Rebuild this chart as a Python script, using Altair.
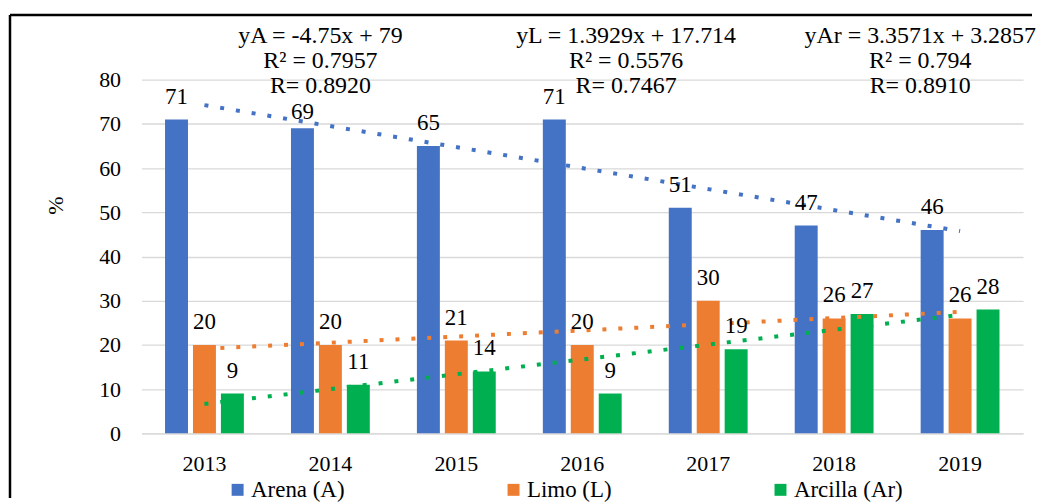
import altair as alt
import pandas as pd

# ---- data ----
years = ["2013", "2014", "2015", "2016", "2017", "2018", "2019"]
year_index = [1, 2, 3, 4, 5, 6, 7]
series_names = ["Arena (A)", "Limo (L)", "Arcilla (Ar)"]
arena = [71, 69, 65, 71, 51, 47, 46]
limo = [20, 20, 21, 20, 30, 26, 26]
arcilla = [9, 11, 14, 9, 19, 27, 28]
series_colors = ["#4472C4", "#ED7D31", "#00B050"]
y_ticks = [0, 10, 20, 30, 40, 50, 60, 70, 80]
eq_arena = ["yA = -4.75x + 79", "R² = 0.7957", "R= 0.8920"]
eq_limo = ["yL = 1.3929x + 17.714", "R² = 0.5576", "R= 0.7467"]
eq_arcilla = ["yAr = 3.3571x + 3.2857", "R² = 0.794", "R= 0.8910"]
eq_anchor_years = ["2014", "2016", "2019"]

rows = []
for name, vals in zip(series_names, [arena, limo, arcilla]):
    for y, i, v in zip(years, year_index, vals):
        rows.append({"year": y, "idx": i, "series": name, "value": v})
df = pd.DataFrame(rows)

FONT = "Liberation Serif"
W, H = 885, 355

x_enc = alt.X(
    "year:N", sort=years,
    scale=alt.Scale(domain=years, paddingInner=0.374, paddingOuter=0.187),
    axis=alt.Axis(title=None, labelFont=FONT, labelFontSize=22, labelColor="black",
                  labelPadding=20, labelAngle=0, ticks=False, grid=False,
                  domainColor="#D9D9D9", domainWidth=1.3),
)
y_enc = alt.Y(
    "value:Q",
    scale=alt.Scale(domain=[0, 80], nice=False, zero=True),
    axis=alt.Axis(values=y_ticks, title="%", titleFont=FONT, titleFontSize=22,
                  titleFontWeight="normal", titleColor="black", titleX=-86, titleY=126,
                  titleAngle=270, titleAlign="center", titleBaseline="middle",
                  labelFont=FONT, labelFontSize=22, labelColor="black", labelPadding=21,
                  ticks=False, domain=False, grid=True, gridColor="#D9D9D9", gridWidth=1.3),
)
xoff = alt.XOffset("series:N", sort=series_names,
                   scale=alt.Scale(domain=series_names, paddingInner=0.1786, paddingOuter=0))

base = alt.Chart(df)

bars = base.mark_bar().encode(
    x=x_enc, y=y_enc, xOffset=xoff,
    color=alt.Color("series:N", sort=series_names,
                    scale=alt.Scale(domain=series_names, range=series_colors),
                    legend=alt.Legend(title=None, orient="none", legendX=85, legendY=400,
                                      direction="horizontal", symbolType="square",
                                      symbolSize=144, symbolStrokeWidth=0,
                                      labelFont=FONT, labelFontSize=23, labelColor="black",
                                      labelOffset=2, columnPadding=158, padding=0)),
)

# Excel nudged the 2014 Arena label down under the equation block
labels = base.transform_calculate(
    label_y="datum.value - ((datum.year == '2014' && datum.series == 'Arena (A)') ? 1.5 : 0)"
).mark_text(font=FONT, fontSize=23, color="black", baseline="alphabetic",
            align="center", dy=-16).encode(
    x=alt.X("year:N", sort=years), y=alt.Y("label_y:Q"), xOffset=xoff,
    text=alt.Text("value:Q"),
)

trend = base.transform_regression(
    "idx", "value", groupby=["series"], extent=[1, 7]
).transform_calculate(
    year="toString(2012 + round(datum.idx))"
).mark_line(strokeWidth=4, strokeDash=[4, 12], strokeCap="butt").encode(
    x=alt.X("year:N", sort=years), y=alt.Y("value:Q"),
    stroke=alt.Stroke("series:N", scale=alt.Scale(domain=series_names, range=series_colors),
                      legend=None),
)

ann_layers = []
for lines, yr, dx in zip([eq_arena, eq_limo, eq_arcilla], eq_anchor_years, [-10, 44, -40]):
    ann_df = pd.DataFrame({"year": [yr], "text": ["\n".join(lines)]})
    ann_layers.append(
        alt.Chart(ann_df).mark_text(font=FONT, fontSize=24, color="black", align="center",
                                    baseline="alphabetic", lineBreak="\n", lineHeight=25,
                                    dx=dx).encode(
            x=alt.X("year:N", sort=years), y=alt.value(-37), text="text:N")
    )

border_df = pd.DataFrame({"k": [0]})
top_rule = alt.Chart(border_df).mark_rule(color="black", strokeWidth=2.5).encode(
    x=alt.value(-132), x2=alt.value(894), y=alt.value(-65))
left_rule = alt.Chart(border_df).mark_rule(color="black", strokeWidth=2.5).encode(
    x=alt.value(-132), y=alt.value(-65), y2=alt.value(420))

chart = alt.layer(
    top_rule, left_rule, bars, trend, labels, *ann_layers
).properties(
    width=W, height=H,
    padding={"left": 0, "top": 4, "right": 0, "bottom": 0},
).configure_view(strokeWidth=0)

chart.save("out.html", embed_options={"renderer": "svg", "actions": False})
